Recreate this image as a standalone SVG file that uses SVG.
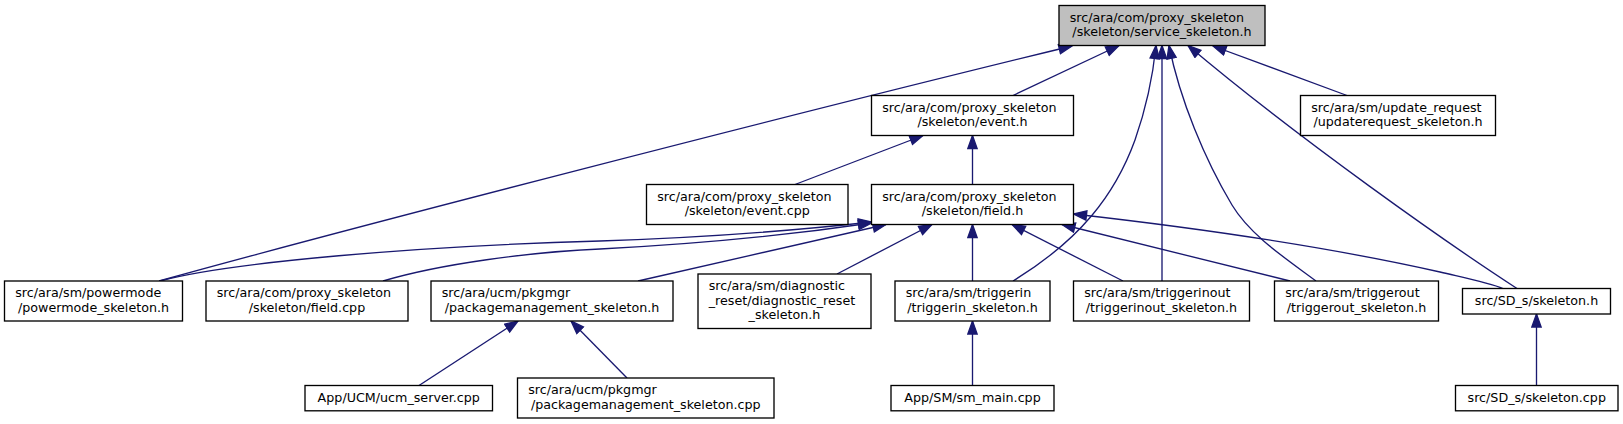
<svg xmlns="http://www.w3.org/2000/svg" width="1623" height="424" viewBox="0 0 1623 424">
<style>
.n rect{fill:#ffffff;stroke:#000000;stroke-width:1.33}
.n.root rect{fill:#bfbfbf}
.n text{font-family:"DejaVu Sans",sans-serif;font-size:12.7px;fill:#000000}
.s{text-anchor:start}
.m{text-anchor:middle}
.e path{fill:none;stroke:#191970;stroke-width:1.33;marker-end:url(#arr)}
</style>
<defs>
<marker id="arr" markerWidth="16" markerHeight="12" refX="14" refY="5.67" orient="auto" markerUnits="userSpaceOnUse">
<path d="M1,1 L14,5.67 L1,10.33 Z" fill="#191970" stroke="#191970" stroke-width="1.33"/>
</marker>
</defs>
<rect width="1623" height="424" fill="#ffffff"/>
<g id="edges" class="e">
<path d="M159,281 C350,228 800,112 1072,46"/>
<path d="M1013,95.5 L1119,45.5"/>
<path d="M1347,95.5 L1213,46"/>
<path d="M1013,281 C1080,240 1115,195 1135,140 C1148,103 1153,75 1156,45.5"/>
<path d="M1162,281 L1162,45.5"/>
<path d="M1316,281 C1285,258 1250,235 1232,205 C1205,160 1180,100 1169,45.5"/>
<path d="M1517,288.5 C1450,245 1300,140 1188,45.5"/>
<path d="M795,184.5 L923,135.5"/>
<path d="M972.5,184.5 L972.5,135.5"/>
<path d="M160,281 C230,262 420,246 600,241 C720,237 800,230 871.5,222"/>
<path d="M383,281 C440,264 530,252 600,249 C720,243 810,232 871.5,223"/>
<path d="M638,281 L886,224.5"/>
<path d="M837,274 L932,224.5"/>
<path d="M972.5,281 L972.5,224.5"/>
<path d="M1123,281 L1012,224.5"/>
<path d="M1290,281 L1062,224.5"/>
<path d="M1503,288.5 C1490,283 1470,279 1440,272 C1320,245 1180,226 1073.5,214"/>
<path d="M419,385.5 L518,321"/>
<path d="M627,378 L571,321"/>
<path d="M972.5,385.5 L972.5,321"/>
<path d="M1536.5,385.5 L1536.5,314"/>
</g>
<g id="node_root" class="n root">
<rect x="1059" y="5.5" width="206" height="40"/>
<text class="s" x="1069.7" y="21.5">src/ara/com/proxy_skeleton</text>
<text class="m" x="1162" y="36.2">/skeleton/service_skeleton.h</text>
</g>
<g id="node_event_h" class="n">
<rect x="871.5" y="95.5" width="202" height="40"/>
<text class="s" x="882.2" y="111.5">src/ara/com/proxy_skeleton</text>
<text class="m" x="972.5" y="126.2">/skeleton/event.h</text>
</g>
<g id="node_updaterequest" class="n">
<rect x="1300.5" y="95.5" width="195" height="40"/>
<text class="s" x="1311.2" y="111.5">src/ara/sm/update_request</text>
<text class="m" x="1398" y="126.2">/updaterequest_skeleton.h</text>
</g>
<g id="node_event_cpp" class="n">
<rect x="646.5" y="184.5" width="201.5" height="40"/>
<text class="s" x="657.2" y="200.5">src/ara/com/proxy_skeleton</text>
<text class="m" x="747.25" y="215.2">/skeleton/event.cpp</text>
</g>
<g id="node_field_h" class="n">
<rect x="871.5" y="184.5" width="202" height="40"/>
<text class="s" x="882.2" y="200.5">src/ara/com/proxy_skeleton</text>
<text class="m" x="972.5" y="215.2">/skeleton/field.h</text>
</g>
<g id="node_powermode" class="n">
<rect x="4.5" y="281" width="178" height="40"/>
<text class="s" x="15.2" y="297">src/ara/sm/powermode</text>
<text class="m" x="93.5" y="311.7">/powermode_skeleton.h</text>
</g>
<g id="node_field_cpp" class="n">
<rect x="206" y="281" width="202" height="40"/>
<text class="s" x="216.7" y="297">src/ara/com/proxy_skeleton</text>
<text class="m" x="307" y="311.7">/skeleton/field.cpp</text>
</g>
<g id="node_pkgmgmt_h" class="n">
<rect x="431" y="281" width="242" height="40"/>
<text class="s" x="441.7" y="297">src/ara/ucm/pkgmgr</text>
<text class="m" x="552" y="311.7">/packagemanagement_skeleton.h</text>
</g>
<g id="node_diagnostic" class="n">
<rect x="698" y="274" width="173" height="54.5"/>
<text class="s" x="708.7" y="290">src/ara/sm/diagnostic</text>
<text class="s" x="708.7" y="304.7">_reset/diagnostic_reset</text>
<text class="m" x="784.5" y="319.3">_skeleton.h</text>
</g>
<g id="node_triggerin" class="n">
<rect x="895" y="281" width="155" height="40"/>
<text class="s" x="905.7" y="297">src/ara/sm/triggerin</text>
<text class="m" x="972.5" y="311.7">/triggerin_skeleton.h</text>
</g>
<g id="node_triggerinout" class="n">
<rect x="1073.5" y="281" width="176" height="40"/>
<text class="s" x="1084.2" y="297">src/ara/sm/triggerinout</text>
<text class="m" x="1161.5" y="311.7">/triggerinout_skeleton.h</text>
</g>
<g id="node_triggerout" class="n">
<rect x="1274.5" y="281" width="164" height="40"/>
<text class="s" x="1285.2" y="297">src/ara/sm/triggerout</text>
<text class="m" x="1356.5" y="311.7">/triggerout_skeleton.h</text>
</g>
<g id="node_sd_skeleton_h" class="n">
<rect x="1462.5" y="288.5" width="148" height="25.5"/>
<text class="m" x="1536.5" y="305.2">src/SD_s/skeleton.h</text>
</g>
<g id="node_ucm_server" class="n">
<rect x="305" y="385.5" width="187.5" height="25.3"/>
<text class="m" x="398.75" y="402.4">App/UCM/ucm_server.cpp</text>
</g>
<g id="node_pkgmgmt_cpp" class="n">
<rect x="517.5" y="378" width="256.5" height="40"/>
<text class="s" x="528.2" y="394">src/ara/ucm/pkgmgr</text>
<text class="m" x="645.75" y="408.7">/packagemanagement_skeleton.cpp</text>
</g>
<g id="node_sm_main" class="n">
<rect x="891" y="385.5" width="163" height="25.3"/>
<text class="m" x="972.5" y="402.4">App/SM/sm_main.cpp</text>
</g>
<g id="node_sd_skeleton_cpp" class="n">
<rect x="1455.5" y="385.5" width="162.5" height="25.3"/>
<text class="m" x="1536.75" y="402.4">src/SD_s/skeleton.cpp</text>
</g>
</svg>
